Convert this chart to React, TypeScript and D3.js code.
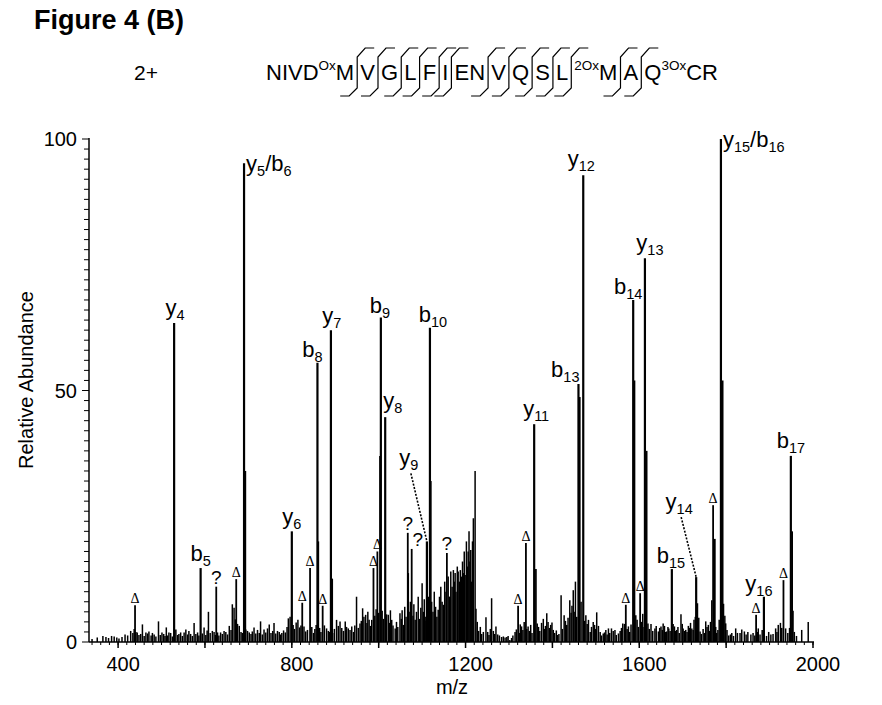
import React from 'react';
import * as d3 from 'd3';

const W = 882;
const H = 705;
const FONT = '"Liberation Sans", Arial, Helvetica, sans-serif';

// ---------- axis ticks ----------
const xTickLabels = [400, 800, 1200, 1600, 2000];
const yTickLabels = [0, 50, 100];

// ---------- annotated fragment ions ----------
const ionLabels = ['y4', 'b5', 'y5/b6', 'y6', 'b8', 'y7', 'b9', 'y8', 'y9', 'b10', 'y11', 'b13', 'y12', 'b14', 'y13', 'b15', 'y14', 'y15/b16', 'y16', 'b17'];
const ionMz = [529, 590, 690, 800, 859, 890, 1005, 1015, 1111, 1118, 1358, 1460, 1471, 1586, 1613, 1675, 1731, 1788, 1887, 1949];
const ionRel = [63.4, 14.7, 95.2, 22, 55.5, 62, 64.5, 44.7, 20, 62.5, 43.3, 51.3, 92.8, 68, 76.3, 14.5, 12.9, 100, 9.0, 37];

// shoulder lines next to the main peaks
const satMz = [693, 861, 893, 1003, 1068, 1120, 1362, 1463, 1589, 1617, 1774, 1792, 1952];
const satRel = [34, 20, 12.6, 37, 13.7, 32, 14.5, 48.7, 52, 38, 20.5, 52, 22];

// peaks marked with a triangle
const deltaMz = [439, 672, 824, 842, 871, 988, 997, 1321, 1339, 1569, 1602, 1770, 1869, 1932];
const deltaRel = [7.3, 12.5, 7.8, 14.7, 7.2, 14.7, 18, 7.2, 19.7, 7.4, 9.7, 27.2, 5.4, 12.3];

// peaks marked with a question mark
const unknownMz = [626, 1067, 1076, 1157];
const unknownRel = [11, 21.7, 18.5, 17.7];

// unlabelled background peaks
const noiseMz = [
  340, 352, 365, 372, 378, 385, 391, 397, 402, 409, 416, 422, 429, 434, 437, 441, 444, 448, 452, 456, 460, 464, 468, 471, 476, 479,
  483, 487, 493, 497, 501, 505, 508, 511, 514, 517, 521, 525, 533, 537, 540, 544, 548, 552, 556, 560, 563, 567, 571, 575, 579, 583,
  586, 594, 598, 602, 605, 608, 612, 617, 621, 624, 629, 632, 636, 640, 644, 648, 652, 656, 660, 663, 667, 670, 675, 679, 683, 686,
  694, 698, 702, 706, 709, 713, 717, 721, 725, 728, 732, 736, 740, 744, 748, 752, 756, 759, 763, 767, 771, 774, 777, 781, 785, 789,
  792, 796, 803, 806, 810, 814, 818, 821, 828, 832, 836, 846, 850, 853, 856, 864, 867, 875, 880, 884, 887, 894, 898, 903, 907, 911,
  915, 919, 923, 926, 930, 934, 938, 942, 945, 949, 953, 957, 960, 963, 966, 970, 973, 975, 978, 981, 984, 991, 994, 1000, 1008, 1011,
  1018, 1022, 1025, 1027, 1030, 1033, 1038, 1041, 1044, 1049, 1052, 1054, 1057, 1060, 1063, 1070, 1073, 1079, 1081, 1084, 1087, 1091,
  1094, 1097, 1100, 1103, 1105, 1107, 1109, 1113, 1115, 1122, 1125, 1128, 1131, 1134, 1137, 1140, 1143, 1146, 1149, 1152, 1155, 1160,
  1163, 1164, 1166, 1169, 1172, 1174, 1176, 1178, 1181, 1183, 1186, 1188, 1191, 1193, 1195, 1197, 1199, 1202, 1204, 1206, 1208, 1210,
  1212, 1214, 1216, 1218, 1222, 1224, 1227, 1230, 1234, 1237, 1241, 1247, 1251, 1254, 1257, 1260, 1264, 1267, 1270, 1274, 1278, 1283,
  1287, 1291, 1295, 1298, 1302, 1306, 1309, 1314, 1317, 1324, 1326, 1329, 1332, 1335, 1341, 1344, 1347, 1350, 1353, 1365, 1368, 1371,
  1375, 1379, 1382, 1384, 1387, 1390, 1393, 1396, 1399, 1402, 1405, 1409, 1412, 1415, 1420, 1423, 1427, 1430, 1433, 1436, 1440, 1443,
  1445, 1448, 1450, 1453, 1456, 1466, 1474, 1477, 1480, 1483, 1487, 1490, 1494, 1497, 1499, 1502, 1506, 1510, 1513, 1517, 1520, 1523,
  1526, 1529, 1532, 1536, 1540, 1544, 1547, 1552, 1556, 1559, 1562, 1566, 1572, 1575, 1578, 1581, 1592, 1595, 1598, 1605, 1608, 1611,
  1620, 1623, 1627, 1631, 1636, 1639, 1644, 1647, 1650, 1653, 1655, 1658, 1661, 1663, 1666, 1668, 1671, 1678, 1681, 1684, 1686, 1689,
  1692, 1696, 1699, 1701, 1704, 1707, 1710, 1713, 1716, 1718, 1721, 1724, 1726, 1729, 1734, 1737, 1740, 1743, 1747, 1750, 1753, 1756,
  1759, 1762, 1764, 1767, 1776, 1778, 1781, 1784, 1794, 1797, 1799, 1802, 1806, 1810, 1813, 1817, 1822, 1826, 1832, 1836, 1842, 1846,
  1850, 1857, 1862, 1866, 1872, 1874, 1878, 1883, 1893, 1898, 1903, 1908, 1914, 1917, 1920, 1925, 1928, 1937, 1942, 1946, 1954, 1957,
  1962, 1974, 1989,
];
const noiseRel = [
  0.6, 0.9, 1.2, 1.0, 0.8, 1.2, 1.1, 0.9, 0.7, 1.0, 1.5, 1.3, 2.2, 1.8, 2.6, 2.0, 1.9, 1.4, 1.6, 3.5, 1.2, 1.9, 1.7, 2.1, 1.3, 1.8,
  1.5, 1.1, 4.1, 1.4, 1.9, 1.6, 1.2, 2.9, 1.3, 1.9, 1.8, 1.1, 2.5, 1.4, 1.6, 1.9, 1.2, 1.9, 2.5, 1.5, 2.2, 1.6, 1.2, 3.8, 1.6, 1.9,
  1.3, 1.7, 2.9, 1.4, 2.3, 6.0, 1.8, 2.2, 2.0, 1.4, 1.9, 1.3, 1.9, 1.6, 2.2, 2.0, 1.5, 3.2, 2.4, 7.5, 6.8, 4.5, 3.6, 3.2, 2.0, 1.8,
  2.5, 2.2, 1.9, 1.6, 2.1, 2.9, 1.7, 2.4, 1.8, 4.1, 1.5, 2.5, 1.9, 2.7, 3.5, 1.8, 2.2, 3.8, 1.7, 2.2, 2.0, 1.5, 1.8, 2.3, 1.9, 3.0,
  4.7, 5.0, 3.4, 2.6, 3.9, 4.4, 2.9, 3.3, 3.1, 2.1, 2.4, 3.0, 1.8, 2.6, 3.4, 2.8, 2.0, 3.3, 2.7, 2.2, 2.0, 1.8, 2.6, 4.4, 3.2, 4.1,
  2.8, 2.2, 4.1, 3.0, 2.7, 2.4, 3.1, 2.0, 3.3, 9.0, 2.8, 3.7, 4.2, 6.7, 5.0, 5.4, 3.8, 6.0, 4.4, 3.2, 4.4, 5.2, 6.5, 5.8, 6.2, 4.6,
  5.5, 5.4, 3.8, 6.3, 4.4, 3.3, 2.7, 4.0, 3.0, 5.7, 4.6, 6.3, 3.4, 7.0, 5.0, 6.0, 8.0, 5.2, 7.5, 4.4, 6.0, 9.0,
  4.6, 6.8, 11.7, 6.0, 8.5, 5.0, 4.2, 7.0, 9.0, 8, 6, 10, 7, 5, 6.4, 9, 11, 8, 7.4, 12, 10, 13,
  9, 9.0, 14, 11, 14.3, 12, 13.7, 10, 15, 14, 12, 14.3, 13, 16, 13.7, 18, 13.3, 20, 15, 18, 22, 16,
  18.3, 12, 20, 24.6, 34, 6.6, 4.0, 2.2, 3.0, 1.6, 2.0, 4.9, 2.0, 1.4, 2.6, 8.7, 2.2, 1.6, 3.1, 1.5, 1.3, 1.0,
  1.1, 0.9, 1.0, 1.2, 0.4, 0.8, 1.3, 2.0, 2.5, 1.8, 3.5, 3.1, 2.4, 4.0, 2.6, 3.1, 2.2, 3.4, 1.8, 3.7, 3.0, 2.2,
  3.8, 4.6, 2.6, 3.2, 5.7, 4.0, 2.8, 3.4, 3.9, 2.4, 1.8, 2.3, 1.4, 1.6, 9.3, 2.6, 5.3, 4.2, 3.4, 4.8, 8.3, 5.8,
  7.2, 10.3, 6.0, 12, 5.0, 8.0, 4.2, 5.3, 3.6, 4.4, 2.0, 3.0, 4.0, 3.4, 2.6, 5.9, 3.2, 2.0, 1.3, 1.7, 1.9, 2.4,
  1.5, 2.7, 1.8, 2.7, 2.2, 2.4, 1.4, 1.7, 2.2, 2.8, 3.7, 3.6, 2.6, 3.1, 2.0, 3.5, 5.3, 4.4, 3.0, 4.0, 5.6, 3.0,
  3.7, 2.6, 3.6, 2.2, 2.7, 3.2, 2.1, 2.8, 3.1, 2.4, 3.7, 3.2, 2.0, 2.1, 3.0, 2.7, 2.2, 3.6, 3.1, 2.2, 2.4, 3.0,
  1.8, 5.5, 3.6, 2.7, 2.2, 2.4, 2.0, 3.2, 2.8, 3.8, 2.7, 2.4, 4.4, 5.0, 7.7, 4.8, 2.1, 1.6, 2.6, 1.8, 4.1, 3.0,
  3.4, 2.2, 4.0, 8.3, 3.0, 1.8, 2.4, 4.4, 7.6, 5.2, 3.7, 2.4, 1.3, 1.5, 1.8, 1.2, 2.7, 1.8, 1.8, 2.5, 2.1, 1.5,
  2.0, 1.5, 1.8, 1.3, 2.0, 2.7, 1.5, 2.4, 1.2, 2.0, 1.5, 1.6, 2.7, 2.0, 3.4, 3.8, 2.8, 2.7, 1.8, 2.8, 6.2, 2.0,
  1.2, 2.4, 4.0,
];

// ---------- peptide sequence header ----------
const seqTokens = ['NIVD', '^Ox', 'M', '|', 'V', '|', 'G', '|', 'L', '|', 'F', '|', 'I', '|', 'EN', '|', 'V', '|', 'Q', '|', 'S', '|', 'L', '|', '^2Ox', 'M', '|', 'A', '|', 'Q', '^3Ox', 'CR'];

// label layout: [anchor, dx, dy] relative to the peak top
const labelLayout: Record<string, [string, number, number]> = {
  y4: ['middle', 1, -8],
  b5: ['middle', 0, -7],
  'y5/b6': ['start', 2, 8],
  y6: ['middle', 0, -7],
  b8: ['middle', -5, -6],
  y7: ['middle', 1, -7],
  b9: ['middle', -1, -5],
  y8: ['start', -2, -9],
  b10: ['middle', 3, -6],
  y11: ['middle', 2, -8],
  b13: ['end', 1, -7],
  y12: ['middle', -2, -9],
  b14: ['middle', -5, -6],
  y13: ['middle', 5, -8],
  b15: ['middle', -1, -6],
  'y15/b16': ['start', 2, 8],
  y16: ['middle', -5, -6],
  b17: ['middle', 0, -8],
};
const leaderLayout: Record<string, [number, number]> = {
  y9: [-18, -76],
  y14: [-17, -68],
};
// horizontal nudge of question marks
const unknownDx = [0, 0, 6, 0];

let measureCtx: CanvasRenderingContext2D | null = null;
function measure(text: string, size: number): number {
  if (!measureCtx) {
    const c = document.createElement('canvas');
    measureCtx = c.getContext('2d');
  }
  if (!measureCtx) return text.length * size * 0.6;
  measureCtx.font = `${size}px "Liberation Sans", Arial, sans-serif`;
  return measureCtx.measureText(text).width;
}

function IonText({ label, x, y, anchor }: { label: string; x: number; y: number; anchor: string }) {
  const parts: { t: string; sub: boolean }[] = [];
  const re = /([a-z/]+)(\d+)/g;
  let m: RegExpExecArray | null;
  while ((m = re.exec(label))) {
    parts.push({ t: m[1], sub: false });
    parts.push({ t: m[2], sub: true });
  }
  return (
    <text x={x} y={y} textAnchor={anchor as any} fontSize={22} fontFamily={FONT} fill="#000">
      {parts.map((p, i) => (
        <tspan key={i} fontSize={p.sub ? 14.5 : 22} dy={p.sub ? 5 : i > 0 ? -5 : 0}>
          {p.t}
        </tspan>
      ))}
    </text>
  );
}

export default function App() {
  const x = d3.scaleLinear().domain([333, 2000]).range([89, 813]);
  const y = d3.scaleLinear().domain([0, 100]).range([642, 139]);
  const x0 = x.range()[0];
  const x1 = x.range()[1];
  const yBase = y(0);

  const minorX = d3.range(340, 2001, 20);
  const majorX = d3.range(400, 2001, 200);
  const minorY = d3.range(0, 101, 2);

  // sequence layout
  const seqFont = 22;
  const supFont = 13.5;
  const seqStart = 266;
  const seqEnd = 718;
  const widths = seqTokens.map((t) => (t === '|' ? 0 : t.startsWith('^') ? measure(t.slice(1), supFont) : measure(t, seqFont)));
  const nCuts = seqTokens.filter((t) => t === '|').length;
  const gap = (seqEnd - seqStart - d3.sum(widths)) / nCuts;
  let cx = seqStart;
  const seqItems: { t: string; x: number; kind: string }[] = [];
  seqTokens.forEach((t, i) => {
    if (t === '|') {
      seqItems.push({ t, x: cx + gap / 2, kind: 'cut' });
      cx += gap;
    } else if (t.startsWith('^')) {
      seqItems.push({ t: t.slice(1), x: cx, kind: 'sup' });
      cx += widths[i];
    } else {
      seqItems.push({ t, x: cx, kind: 'aa' });
      cx += widths[i];
    }
  });

  const lineFor = (mz: number, rel: number, w: number, key: string) => (
    <line key={key} x1={x(mz)} x2={x(mz)} y1={yBase} y2={y(rel)} stroke="#000" strokeWidth={w} />
  );

  return (
    <svg width={W} height={H} style={{ position: 'absolute', left: 0, top: 0, background: '#fff' }} xmlns="http://www.w3.org/2000/svg">
      <rect width={W} height={H} fill="#fff" />
      {/* title */}
      <text x={34} y={29} fontFamily={FONT} fontWeight="bold" fontSize={27}>
        Figure 4 (B)
      </text>
      <text x={134} y={80} fontFamily={FONT} fontSize={21}>
        2+
      </text>
      {/* sequence */}
      <g fontFamily={FONT}>
        {seqItems.map((s, i) => {
          if (s.kind === 'cut') {
            const cxp = s.x;
            const d = `M${cxp - 17},96 L${cxp - 8},96 L${cxp},88 L${cxp},57 L${cxp + 8},48 L${cxp + 17},48`;
            return <path key={i} d={d} fill="none" stroke="#000" strokeWidth={1.2} />;
          }
          if (s.kind === 'sup') {
            return (
              <text key={i} x={s.x} y={70} fontSize={supFont}>
                {s.t}
              </text>
            );
          }
          return (
            <text key={i} x={s.x} y={80} fontSize={seqFont}>
              {s.t}
            </text>
          );
        })}
      </g>

      {/* peaks */}
      <g>{noiseMz.map((mz, i) => lineFor(mz, noiseRel[i], 1.5, 'n' + i))}</g>
      <g>{satMz.map((mz, i) => lineFor(mz, satRel[i], 1.7, 's' + i))}</g>
      <g>{deltaMz.map((mz, i) => lineFor(mz, deltaRel[i], 1.8, 'd' + i))}</g>
      <g>{unknownMz.map((mz, i) => lineFor(mz, unknownRel[i], 1.8, 'u' + i))}</g>
      <g>{ionMz.map((mz, i) => lineFor(mz, ionRel[i], 2.2, 'i' + i))}</g>

      {/* delta markers */}
      {deltaMz.map((mz, i) => (
        <text key={'dt' + i} x={x(mz)} y={y(deltaRel[i]) - 2} textAnchor="middle" fontFamily='"Liberation Serif", "Times New Roman", serif' fontSize={14}>
          Δ
        </text>
      ))}
      {unknownMz.map((mz, i) => (
        <text key={'ut' + i} x={x(mz) + unknownDx[i]} y={y(unknownRel[i]) - 3} textAnchor="middle" fontFamily={FONT} fontSize={19}>
          ?
        </text>
      ))}

      {/* ion labels */}
      {ionLabels.map((lab, i) => {
        const px = x(ionMz[i]);
        const py = y(ionRel[i]);
        if (leaderLayout[lab]) {
          const [dx, dy] = leaderLayout[lab];
          const lx = px + dx;
          const ly = py + dy;
          return (
            <g key={'il' + i}>
              <IonText label={lab} x={lx} y={ly} anchor="middle" />
              <line x1={lx + 2} y1={ly + 8} x2={px} y2={py} stroke="#000" strokeWidth={1.6} strokeDasharray="2,1.5" />
            </g>
          );
        }
        const [anchor, dx, dy] = labelLayout[lab];
        return <IonText key={'il' + i} label={lab} x={px + dx} y={py + dy} anchor={anchor} />;
      })}

      {/* axes */}
      <g stroke="#000" strokeWidth={1.5} fill="none">
        <line x1={x0} x2={x0} y1={y(100) - 1} y2={yBase} />
        <line x1={x0} x2={x1 + 1} y1={yBase} y2={yBase} />
        {minorY.map((v) => (
          <line key={'my' + v} x1={x0 - (v % 50 === 0 ? 7 : 5)} x2={x0} y1={y(v)} y2={y(v)} strokeWidth={1} />
        ))}
        {minorX.map((v) => (
          <line key={'mx' + v} x1={x(v)} x2={x(v)} y1={yBase} y2={yBase + 3} strokeWidth={1} />
        ))}
        {majorX.map((v) => (
          <line key={'Mx' + v} x1={x(v)} x2={x(v)} y1={yBase} y2={yBase + 6} strokeWidth={1.5} />
        ))}
      </g>
      <g fontFamily={FONT} fontSize={20}>
        {yTickLabels.map((v) => (
          <text key={'yl' + v} x={x0 - 12} y={y(v) + 7} textAnchor="end">
            {v}
          </text>
        ))}
        {xTickLabels.map((v) => (
          <text key={'xl' + v} x={x(v) + 5} y={671} textAnchor="middle">
            {v}
          </text>
        ))}
        <text x={452} y={694} textAnchor="middle">
          m/z
        </text>
        <text transform={`translate(33,${380}) rotate(-90)`} textAnchor="middle">
          Relative Abundance
        </text>
      </g>
    </svg>
  );
}
